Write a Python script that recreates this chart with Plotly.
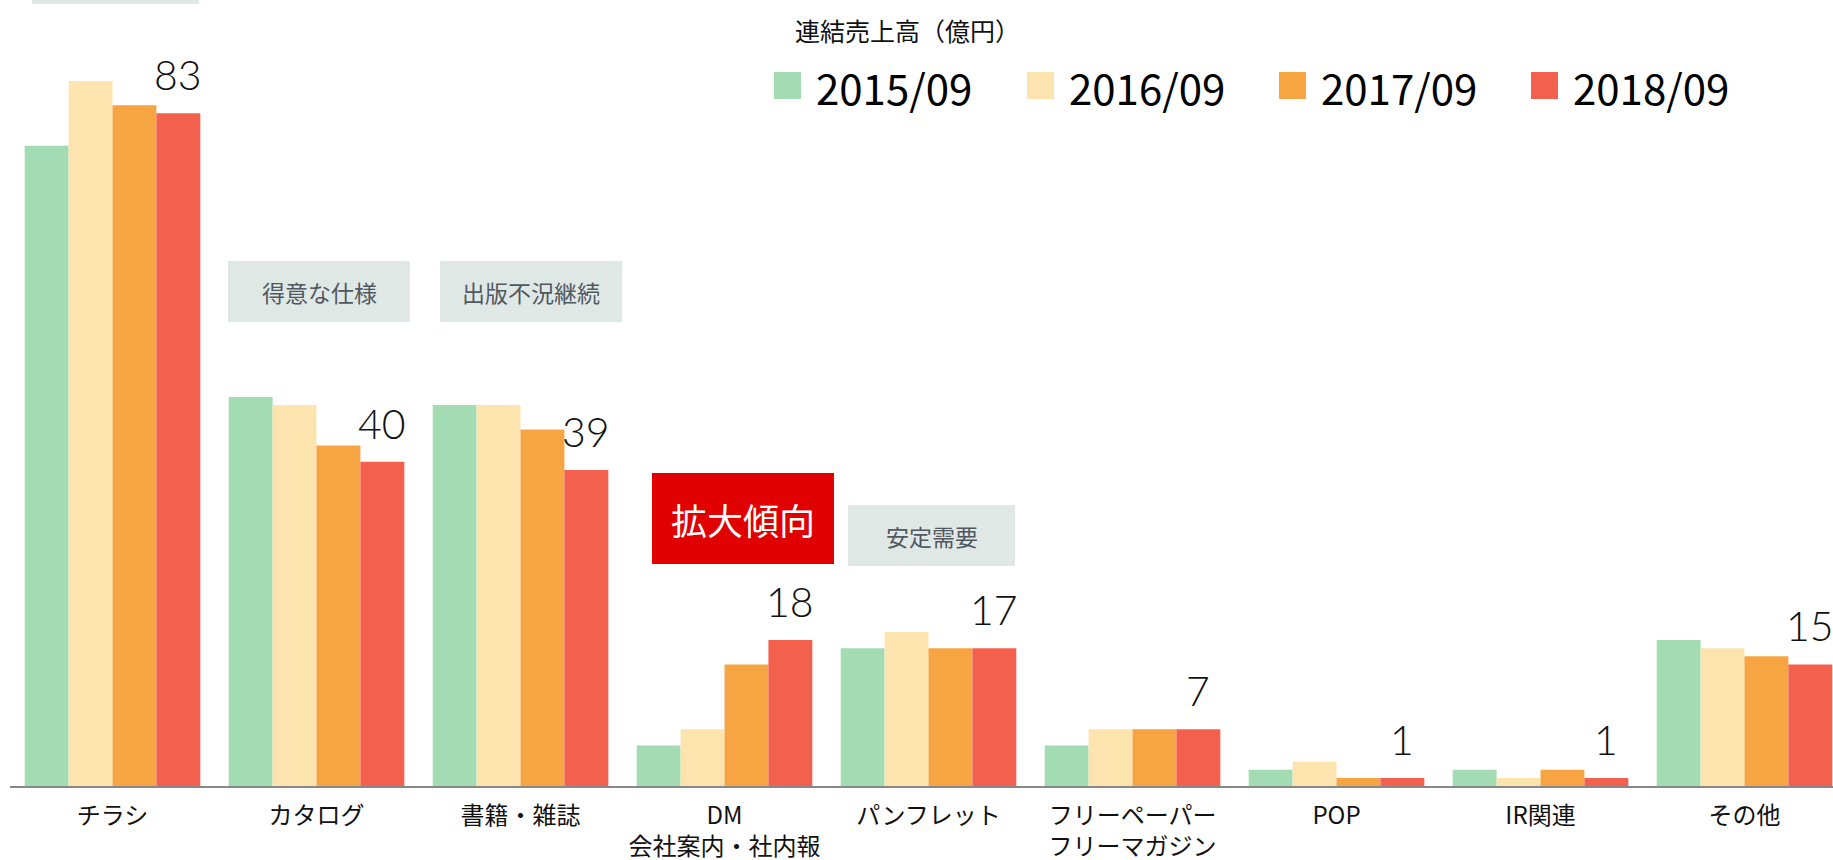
import plotly.graph_objects as go

# ---- data ----
categories = ["チラシ", "カタログ", "書籍・雑誌", "DM<br>会社案内・社内報", "パンフレット",
              "フリーペーパー<br>フリーマガジン", "POP", "IR関連", "その他"]
series_names = ["2015/09", "2016/09", "2017/09", "2018/09"]
v2015 = [79, 48, 47, 5, 17, 5, 2, 2, 18]
v2016 = [87, 47, 47, 7, 19, 7, 3, 1, 17]
v2017 = [84, 42, 44, 15, 17, 7, 1, 2, 16]
v2018 = [83, 40, 39, 18, 17, 7, 1, 1, 15]
legend_title = "連結売上高（億円）"
callouts = ["得意な仕様", "出版不況継続", "拡大傾向", "安定需要"]

colors = ["#a3dbb2", "#fde4af", "#f7a542", "#f4604e"]
series = [v2015, v2016, v2017, v2018]

W, H = 1833, 860
ML, MR, MT, MB = 10, 0, 0, 74
PW, PH = W - ML - MR, H - MT - MB
BARGAP = 0.139
CJK = "Noto Sans CJK JP"

def xp(px):
    return (px - ML) / PW

def yp(py):
    return (H - MB - py) / PH

xs = list(range(len(categories)))
fig = go.Figure()
for name, vals, col in zip(series_names, series, colors):
    fig.add_trace(go.Bar(x=xs, y=vals, name=name, marker=dict(color=col, line=dict(width=0)),
                         showlegend=False, hoverinfo="x+y"))

# value labels above the latest-year bar
red_off = (1 - BARGAP) / 4 * 1.5
for i, v in enumerate(v2018):
    fig.add_annotation(x=i + red_off, y=v, xref="x", yref="y", text=str(v), showarrow=False,
                       yanchor="bottom", xanchor="center", yshift=12,
                       font=dict(family="Lato", size=41, color="#111", weight=300))

shapes = []
annos = []
# manual legend
leg_x = [774, 1027, 1279, 1531]
for lx, name, col in zip(leg_x, series_names, colors):
    shapes.append(dict(type="rect", xref="paper", yref="paper", x0=xp(lx), x1=xp(lx + 27),
                       y0=yp(99), y1=yp(72), fillcolor=col, line=dict(width=0)))
    annos.append(dict(x=xp(lx + 40), y=yp(86), xref="paper", yref="paper", text=name,
                      showarrow=False, xanchor="left", yanchor="middle",
                      font=dict(family=CJK, size=42, color="#000")))
annos.append(dict(x=xp(793), y=yp(30), xref="paper", yref="paper", text=legend_title,
                  showarrow=False, xanchor="left", yanchor="middle",
                  font=dict(family=CJK, size=25, color="#111")))

# callout boxes
gray = "#e0e8e6"
boxes = [
    (32, 199, -60, 4, gray, None, None, None),
    (228, 410, 261, 322, gray, callouts[0], "#505862", 23),
    (440, 622, 261, 322, gray, callouts[1], "#505862", 23),
    (652, 834, 473, 564, "#e00000", callouts[2], "#ffffff", 36),
    (848, 1015, 505, 566, gray, callouts[3], "#505862", 23),
]
for x0, x1, y0, y1, fc, txt, tc, fs in boxes:
    shapes.append(dict(type="rect", xref="paper", yref="paper", x0=xp(x0), x1=xp(x1),
                       y0=yp(y1), y1=yp(y0), fillcolor=fc, line=dict(width=0), layer="below"))
    if txt:
        annos.append(dict(x=xp((x0 + x1) / 2), y=yp((y0 + y1) / 2), xref="paper", yref="paper",
                          text=txt, showarrow=False, xanchor="center", yanchor="middle",
                          font=dict(family=CJK, size=fs, color=tc)))

for a in annos:
    fig.add_annotation(**a)

fig.update_layout(
    width=W, height=H,
    margin=dict(l=ML, r=MR, t=MT, b=MB, pad=0, autoexpand=False),
    paper_bgcolor="white", plot_bgcolor="white",
    barmode="group", bargap=BARGAP, bargroupgap=0,
    shapes=shapes,
    showlegend=False,
    xaxis=dict(range=[-0.5025, -0.5025 + PW / 204.0], tickvals=xs, ticktext=categories,
               showgrid=False, zeroline=False, showline=True, linecolor="#888888", linewidth=2,
               ticks="", tickfont=dict(family=CJK, size=24, color="#111"), ticklabelstandoff=7,
               automargin=False, fixedrange=True),
    yaxis=dict(range=[0, 96.98], visible=False, showgrid=False, zeroline=False,
               automargin=False, fixedrange=True),
)

fig.write_html("out.html", config={"displayModeBar": False},
               post_script="document.body.style.margin='0px';document.body.style.overflow='hidden';")
